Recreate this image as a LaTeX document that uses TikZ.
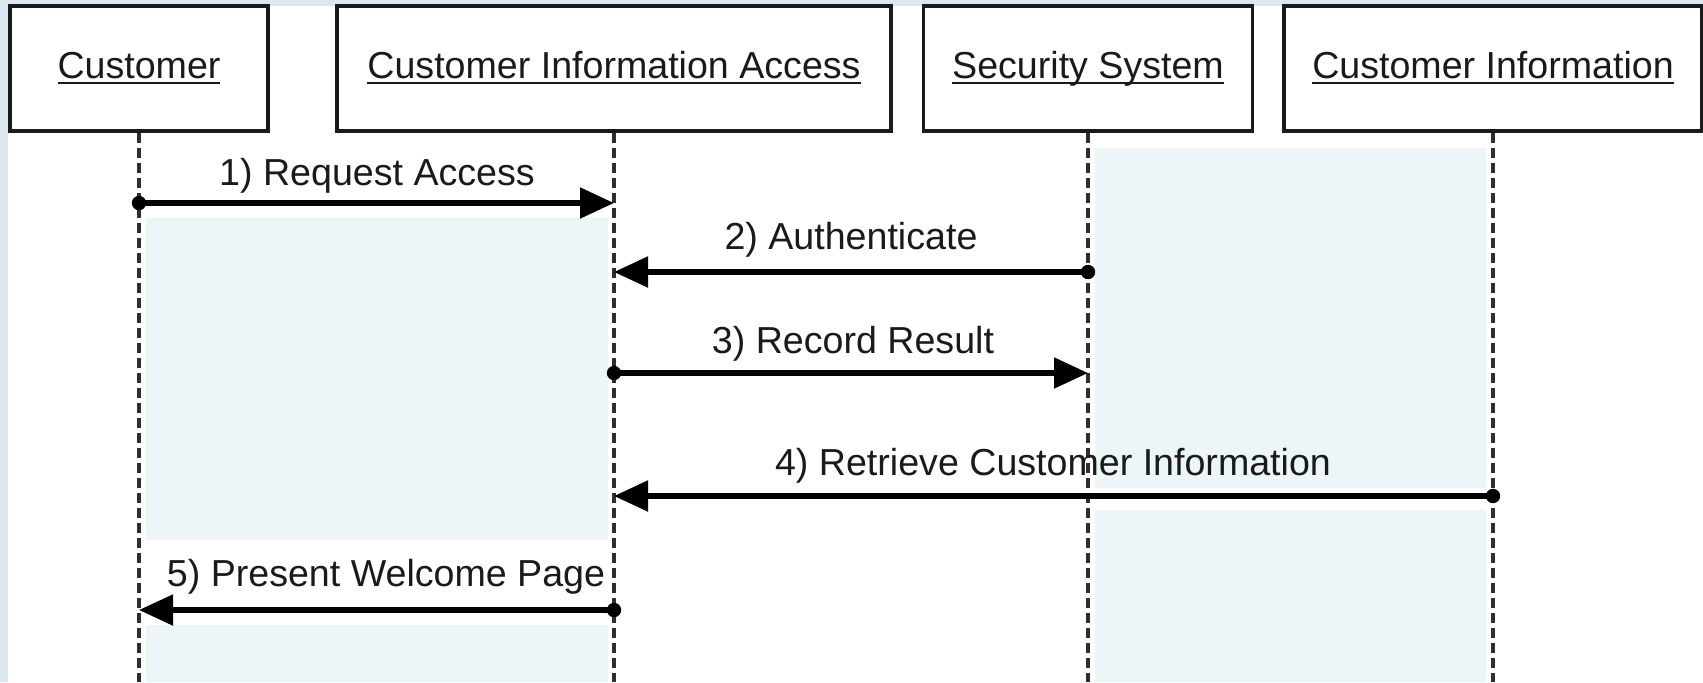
\documentclass[tikz,border=0pt]{standalone}
\usepackage{fontspec}
\setmainfont{Liberation Sans}
\usetikzlibrary{arrows.meta,calc}

\definecolor{edgeblue}{HTML}{DCE8F0}
\definecolor{lanefill}{HTML}{ECF6F8}
\definecolor{ink}{HTML}{1A1A1A}
\definecolor{lifegray}{HTML}{2E2E2E}

% object name with a fixed-depth underline
\newcommand\objname[1]{\setbox0\hbox{#1}\rlap{\rule[-2.7pt]{\wd0}{1.1pt}}\box0}

\begin{document}
\begin{tikzpicture}[x=0.5pt,y=-0.5pt,
  font=\fontsize{18.8pt}{22pt}\selectfont,
  objbox/.style={draw=ink, line width=1.9pt, fill=white, minimum height=62.5pt,
    inner sep=0pt, text height=13.5pt, text depth=3.5pt, text=ink},
  lifeline/.style={draw=lifegray, line width=1.6pt, dash pattern=on 5pt off 2.5pt},
  msg/.style={draw=black, line width=2.6pt, -{Triangle[length=17pt,width=15pt]}},
  msglabel/.style={anchor=base, text=ink, inner sep=0pt}]

\useasboundingbox (0,0) rectangle (1703,682);
\clip (0,0) rectangle (1703,682);

% page background
\fill[edgeblue] (0,0) rectangle (1703,682);
\fill[white] (8,6) rectangle (1703,682);

% tinted lanes between lifelines
\fill[lanefill] (146,218) rectangle (608,540);
\fill[lanefill] (146,625) rectangle (608,682);
\fill[lanefill] (1095,148) rectangle (1486,488);
\fill[lanefill] (1095,510) rectangle (1486,682);

% objects
\node[objbox, minimum width=129pt]   (cust) at (139,68.5)  {\objname{Customer}};
\node[objbox, minimum width=277pt]   (cia)  at (614,68.5)  {\objname{Customer Information Access}};
\node[objbox, minimum width=164.5pt] (sec)  at (1088,68.5) {\objname{Security System}};
\node[objbox, minimum width=209pt]   (info) at (1493,68.5) {\objname{Customer Information}};

% lifeline ends
\coordinate (custEnd) at (cust.south |- 0,682);
\coordinate (ciaEnd)  at (cia.south  |- 0,682);
\coordinate (secEnd)  at (sec.south  |- 0,682);
\coordinate (infoEnd) at (info.south |- 0,682);

\draw[lifeline] (cust.south) -- (custEnd);
\draw[lifeline] (cia.south)  -- (ciaEnd);
\draw[lifeline] (sec.south)  -- (secEnd);
\draw[lifeline] (info.south) -- (infoEnd);

% message points on the lifelines
\coordinate (cust1) at (cust.south |- 0,203);
\coordinate (cia1)  at (cia.south  |- 0,203);
\coordinate (sec2)  at (sec.south  |- 0,272);
\coordinate (cia2)  at (cia.south  |- 0,272);
\coordinate (cia3)  at (cia.south  |- 0,373);
\coordinate (sec3)  at (sec.south  |- 0,373);
\coordinate (info4) at (info.south |- 0,496);
\coordinate (cia4)  at (cia.south  |- 0,496);
\coordinate (cia5)  at (cia.south  |- 0,610);
\coordinate (cust5) at (cust.south |- 0,610);

% messages
\draw[msg] (cust1) -- (cia1);
\fill (cust1) circle (3.6pt);
\node[msglabel] (lab1) at (377,185) {1) Request Access};

\draw[msg] (sec2) -- (cia2);
\fill (sec2) circle (3.6pt);
\node[msglabel] (lab2) at (851,249) {2) Authenticate};

\draw[msg] (cia3) -- (sec3);
\fill (cia3) circle (3.6pt);
\node[msglabel] (lab3) at (853,353) {3) Record Result};

\draw[msg] (info4) -- (cia4);
\fill (info4) circle (3.6pt);
\node[msglabel] (lab4) at (1053,475) {4) Retrieve Customer Information};

\draw[msg] (cia5) -- (cust5);
\fill (cia5) circle (3.6pt);
\node[msglabel] (lab5) at (386,586) {5) Present Welcome Page};
\end{tikzpicture}
\end{document}
